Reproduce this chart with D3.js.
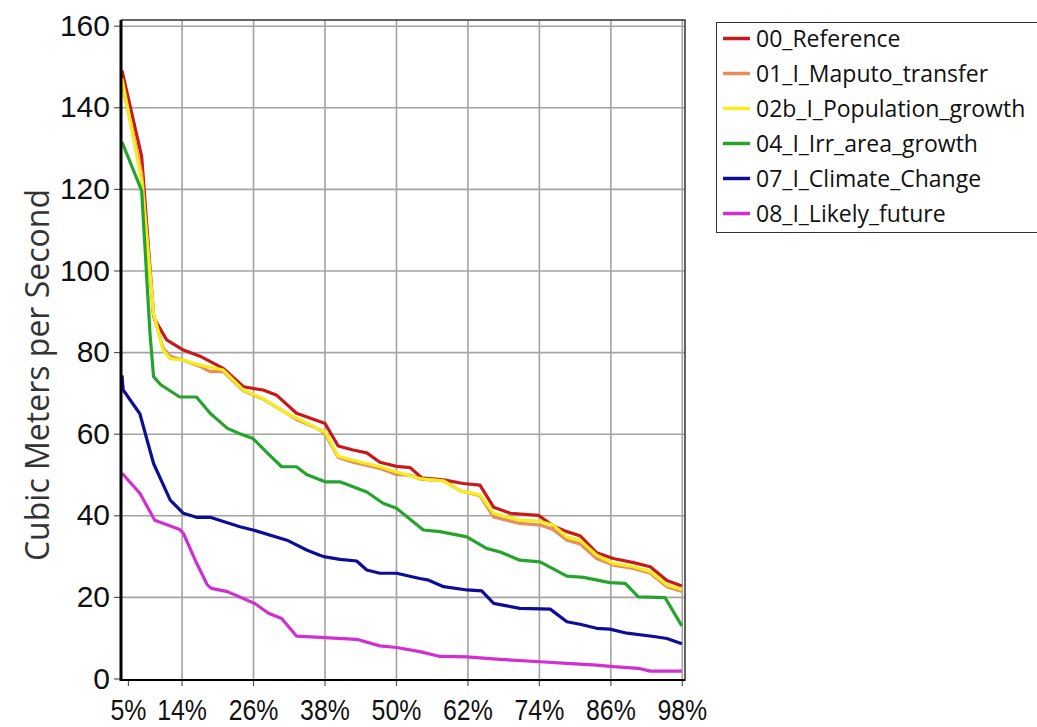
<!DOCTYPE html>
<html>
<head>
<meta charset="utf-8">
<script src="https://cdn.jsdelivr.net/npm/d3@7"></script>
<style>
  body { margin: 0; background: #fff; }
  svg { display: block; }
</style>
</head>
<body>
<svg id="chart" width="1037" height="727"></svg>
<script>
// Flow duration curves: exceedance percentage vs. streamflow (m³/s)
const seriesNames = [
  "00_Reference",
  "01_I_Maputo_transfer",
  "02b_I_Population_growth",
  "04_I_Irr_area_growth",
  "07_I_Climate_Change",
  "08_I_Likely_future"
];
const seriesColors = ["#c81a1c", "#e98c5c", "#f4ef1c", "#25a42d", "#0d0d96", "#d12fd1"];

const reference = [[4,149],[7.3,128],[9.3,89],[9.5,88],[11.5,83],[14.3,80.5],[17.1,79],[21,76],[24.4,71.5],[27.7,70.7],[30,69.4],[33.3,65],[37.2,63],[38.1,62.5],[40.3,57],[42.8,56],[45.1,55.3],[47.3,53],[50.1,52],[52.4,51.7],[54.3,49.2],[58,48.7],[61.3,47.8],[64.1,47.4],[66.4,42],[69.2,40.5],[73.9,40],[76.4,37.4],[78.7,36],[80.9,35],[83.7,30.8],[86.5,29.4],[89.9,28.4],[92.7,27.4],[95.5,24],[98,22.7]];

const maputoTransfer = [[4,146],[7.3,124],[9.3,89],[10.9,81],[12.1,79],[14.3,78],[17.1,76.5],[18.8,75.2],[21,75.3],[24.4,70.5],[27.7,68.5],[31.7,65],[33.3,63.5],[37.2,61],[38.1,60],[40.3,54.2],[42.8,53],[47.3,51.5],[50.1,50],[52.4,49.8],[54.3,48.8],[58,48.5],[60.8,46],[64.1,44.8],[66.4,39.6],[70.8,38],[74.2,37.6],[76.4,36.5],[78.7,33.9],[80.9,33],[83.7,29.4],[86.5,27.8],[89.9,27],[92.7,25.8],[95.5,22.5],[98,21.3]];

const populationGrowth = [[4,147],[7.3,122],[9.3,89.5],[10.9,80.5],[12.1,78.4],[14.3,78],[17.1,76.8],[21,75.6],[24.4,70.7],[27.7,68.6],[31.7,65],[37.2,61],[38.1,60.4],[40.3,54.5],[42.8,53.5],[47.3,51.9],[50.1,50.6],[54,49],[58,48.4],[60.8,46],[64.1,45],[66.4,40.5],[70.8,38.8],[73.9,38.6],[76.4,37.6],[78.7,34.7],[80.9,33.9],[83.7,30.2],[86.5,28.2],[89.9,27.4],[92.7,26.2],[95.5,22.9],[98,21.8]];

const irrAreaGrowth = [[4,131.5],[7.3,119.6],[8.7,84.6],[9.3,74],[10.5,72],[13.7,69],[16.5,69],[18.8,65],[21.7,61.3],[23.8,60],[26,58.8],[28.6,55],[30.8,51.9],[33.3,51.9],[35,50],[38.1,48.2],[40.6,48.2],[45.1,45.7],[47.9,42.9],[50.1,41.7],[54.6,36.4],[57.4,36],[61.9,34.7],[65.2,31.9],[67.5,31],[70.8,29],[74.2,28.6],[78.7,25.1],[81.5,24.8],[85.9,23.5],[88.5,23.3],[90.7,20],[95.2,19.8],[98,12.9]];

const climateChange = [[4,74.3],[4.2,70.7],[7,64.9],[9.3,52.7],[12.1,43.7],[14.3,40.5],[16.5,39.5],[18.8,39.5],[23.8,37.2],[26,36.4],[31.7,33.9],[35,31.5],[37.2,30.2],[38.1,29.8],[40.6,29.2],[43.4,28.8],[45.1,26.6],[47.3,25.8],[50.1,25.8],[54,24.5],[55.5,24.1],[58,22.5],[61.9,21.7],[64.4,21.5],[66.4,18.4],[68.6,17.8],[70.8,17.2],[75.9,17],[78.7,13.9],[80.9,13.3],[83.7,12.3],[85.9,12.1],[88.8,11.1],[93.3,10.3],[95.5,9.8],[98,8.5]];

const likelyFuture = [[4,50.3],[7,45.4],[9.5,38.8],[13.7,36.5],[14.3,35.6],[16.3,29],[17.1,26.6],[18.3,23],[19,22.1],[21.7,21.3],[26.3,18.4],[28.6,16],[30.8,14.7],[33.3,10.4],[38.1,10],[43.4,9.6],[47.3,8],[50.1,7.6],[54,6.6],[57.4,5.4],[61.9,5.3],[67.5,4.7],[74.2,4.1],[78.7,3.7],[83.7,3.3],[86.5,2.9],[90.7,2.5],[92.7,1.8],[98,1.8]];

const seriesValues = [reference, maputoTransfer, populationGrowth, irrAreaGrowth, climateChange, likelyFuture];

const xTickValues = [5, 14, 26, 38, 50, 62, 74, 86, 98];
const yTickValues = [0, 20, 40, 60, 80, 100, 120, 140, 160];
const yAxisTitle = "Cubic Meters per Second";

const svg = d3.select("#chart");

const plot = { left: 121, top: 20, right: 685, bottom: 681 };

const x = d3.scaleLinear().domain([4, 98.5]).range([122, 684.8]);
const y = d3.scaleLinear().domain([0, 160]).range([678.5, 25.7]);

// Grid
const grid = svg.append("g");
grid.append("g")
  .attr("transform", `translate(0,${plot.bottom})`)
  .call(d3.axisBottom(x).tickValues(xTickValues.slice(1)).tickSize(-(plot.bottom - plot.top)).tickFormat(""))
  .call(g => g.select(".domain").remove())
  .call(g => g.selectAll("line").attr("stroke", "#a3a3a3").attr("stroke-width", 1.6));
grid.append("g")
  .attr("transform", `translate(${plot.left},0)`)
  .call(d3.axisLeft(y).tickValues(yTickValues.slice(1)).tickSize(-(plot.right - plot.left)).tickFormat(""))
  .call(g => g.select(".domain").remove())
  .call(g => g.selectAll("line").attr("stroke", "#a3a3a3").attr("stroke-width", 1.6));

// Frame (top and right)
svg.append("path")
  .attr("d", `M${plot.left},${plot.top}H${plot.right}V${plot.bottom}`)
  .attr("fill", "none")
  .attr("stroke", "#333")
  .attr("stroke-width", 1.5);

// Lines
const line = d3.line().x(d => x(d[0])).y(d => y(d[1]));
svg.append("g")
  .selectAll("path")
  .data(seriesValues)
  .join("path")
  .attr("d", line)
  .attr("fill", "none")
  .attr("stroke", (d, i) => seriesColors[i])
  .attr("stroke-width", 3.2)
  .attr("stroke-linejoin", "round");

// Y axis
const yAxis = svg.append("g")
  .attr("transform", `translate(${plot.left},0)`)
  .call(d3.axisLeft(y).tickValues(yTickValues).tickSize(7).tickPadding(4));
yAxis.select(".domain").remove();
yAxis.selectAll("line").attr("stroke", "#555").attr("stroke-width", 1.2);
yAxis.selectAll("text")
  .attr("font-family", "'Liberation Sans', Arial, sans-serif")
  .attr("font-size", 30)
  .attr("fill", "#111");

// X axis (labels horizontally condensed)
const xAxis = svg.append("g")
  .attr("transform", `translate(0,${plot.bottom - 1})`)
  .call(d3.axisBottom(x).tickValues(xTickValues).tickSize(6).tickPadding(4).tickFormat(d => d + "%"));
xAxis.select(".domain").remove();
xAxis.selectAll("line").attr("stroke", "#555").attr("stroke-width", 1.2);
xAxis.selectAll("text")
  .attr("font-family", "'Liberation Sans', Arial, sans-serif")
  .attr("font-size", 30)
  .attr("fill", "#111")
  .attr("y", 0)
  .attr("dy", null)
  .attr("transform", "translate(0,40) scale(0.83,1)");

// Axis lines: thick left, bottom
svg.append("line")
  .attr("x1", plot.left).attr("x2", plot.left)
  .attr("y1", plot.top).attr("y2", plot.bottom)
  .attr("stroke", "#000").attr("stroke-width", 3);
svg.append("line")
  .attr("x1", plot.left).attr("x2", plot.right)
  .attr("y1", plot.bottom - 1).attr("y2", plot.bottom - 1)
  .attr("stroke", "#000").attr("stroke-width", 2);

// Y axis title
svg.append("text")
  .attr("transform", `translate(49,375) rotate(-90)`)
  .attr("text-anchor", "middle")
  .attr("font-family", "'Open Sans', 'Noto Sans', sans-serif")
  .attr("font-size", 32)
  .attr("fill", "#333")
  .text(yAxisTitle);

// Legend
const legend = svg.append("g");
legend.append("rect")
  .attr("x", 716.5).attr("y", 22.5)
  .attr("width", 330).attr("height", 210)
  .attr("fill", "#fff")
  .attr("stroke", "#333")
  .attr("stroke-width", 1);
const rows = legend.selectAll("g.row")
  .data(seriesNames)
  .join("g")
  .attr("class", "row")
  .attr("transform", (d, i) => `translate(0,${38.5 + i * 35})`);
rows.append("line")
  .attr("x1", 723).attr("x2", 750)
  .attr("stroke", (d, i) => seriesColors[i])
  .attr("stroke-width", 3.5);
rows.append("text")
  .attr("x", 756)
  .attr("dy", "0.35em")
  .attr("font-family", "'Open Sans', 'Noto Sans', sans-serif")
  .attr("font-size", 23)
  .attr("fill", "#111")
  .text(d => d);
</script>
</body>
</html>
